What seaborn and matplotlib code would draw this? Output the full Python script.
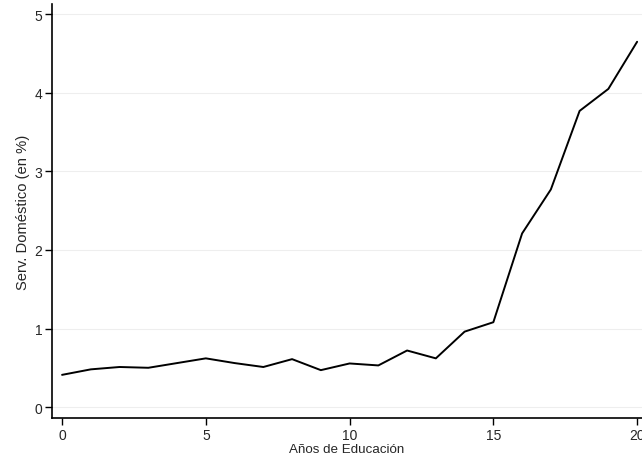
import pandas as pd
import matplotlib
matplotlib.use("Agg")
import matplotlib.pyplot as plt
import seaborn as sns

# Datos
anios = list(range(0, 21))
serv_domestico = [0.41, 0.48, 0.51, 0.50, 0.56, 0.62, 0.56, 0.51, 0.61, 0.47,
                  0.555, 0.53, 0.72, 0.62, 0.96, 1.08, 2.21, 2.77, 3.77, 4.05, 4.65]
yticks = [0, 1, 2, 3, 4, 5]
xticks = [0, 5, 10, 15, 20]

df = pd.DataFrame({"anios": anios, "serv": serv_domestico})

sns.set_theme(style="white")
plt.rcParams["font.family"] = ["Liberation Sans", "DejaVu Sans"]

fig = plt.figure(figsize=(6.42, 4.6), dpi=100)
ax = fig.add_axes([0.081, 0.089, 0.919, 0.9])

# líneas de cuadrícula tenues
for y in yticks:
    ax.axhline(y, color="#eeeeee", lw=0.8, zorder=0)

sns.lineplot(data=df, x="anios", y="serv", color="black", lw=1.4, ax=ax)

ax.set_xlim(-0.35, 20.17)
ax.set_ylim(-0.14, 5.13)
ax.set_xticks(xticks)
ax.set_yticks(yticks)
ax.set_xlabel("Años de Educación", fontsize=9.6, labelpad=1)
ax.set_ylabel("Serv. Doméstico (en %)", fontsize=10.6, labelpad=3)
ax.tick_params(axis="both", direction="out", length=5, width=1, color="black",
               labelsize=10, pad=2, bottom=True, left=True)
sns.despine(ax=ax)
for s in ["left", "bottom"]:
    ax.spines[s].set_color("black")
    ax.spines[s].set_linewidth(1.2)
ax.set_facecolor("white")

fig.savefig("out.png", dpi=100)
plt.close(fig)
